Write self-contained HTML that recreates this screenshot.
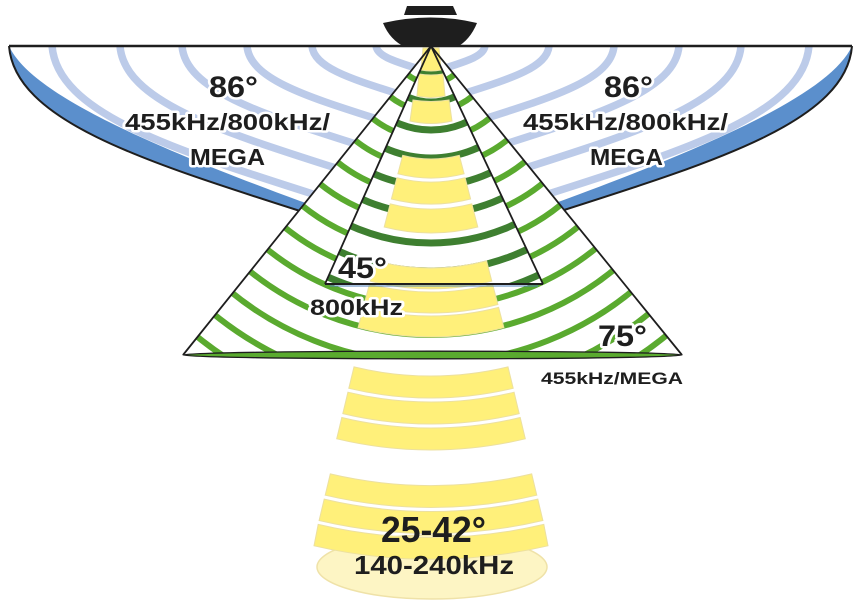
<!DOCTYPE html>
<html><head><meta charset="utf-8"><style>
html,body{margin:0;padding:0;background:#fff;}
svg{display:block;}
text{font-family:"Liberation Sans",sans-serif;font-weight:bold;fill:#1e1e1e;paint-order:stroke;stroke:#fff;stroke-linejoin:round;}
</style></head><body>
<svg width="862" height="607" viewBox="0 0 862 607" xmlns="http://www.w3.org/2000/svg">
<defs>
<clipPath id="lobe"><path d="M9,46 C30,92 140,142 300,201 L431,201 L431,46 Z"/></clipPath>
<clipPath id="outer"><polygon points="431,46 183,355 682,355"/></clipPath>
<clipPath id="inner"><polygon points="431,46 325,284 543,284"/></clipPath>
<g id="side">
  <path d="M9,46 C15,120 140,160 300,211 L312,214 L312,205 L300,201 C140,142 30,92 9,46 Z" fill="#5b8fcc"/>
  <g clip-path="url(#lobe)" fill="none" stroke="#bccbe9" stroke-width="7.5">
    <path d="M9,46 C15,120 140,160 300,211 L320,218" transform="translate(431,46) scale(0.898) translate(-431,-46)" vector-effect="non-scaling-stroke"/>
    <path d="M9,46 C15,120 140,160 300,211 L320,218" transform="translate(431,46) scale(0.737) translate(-431,-46)" vector-effect="non-scaling-stroke"/>
    <path d="M9,46 C15,120 140,160 300,211 L320,218" transform="translate(431,46) scale(0.59) translate(-431,-46)" vector-effect="non-scaling-stroke"/>
    <path d="M9,46 C15,120 140,160 300,211 L320,218" transform="translate(431,46) scale(0.436) translate(-431,-46)" vector-effect="non-scaling-stroke"/>
    <path d="M9,46 C15,120 140,160 300,211 L320,218" transform="translate(431,46) scale(0.282) translate(-431,-46)" vector-effect="non-scaling-stroke"/>
    <path d="M9,46 C15,120 140,160 300,211 L320,218" transform="translate(431,46) scale(0.13) translate(-431,-46)" vector-effect="non-scaling-stroke"/>
  </g>
  <path d="M9,46 C15,120 140,160 300,211 L312,214" fill="none" stroke="#1e1e1e" stroke-width="2"/>
</g>
</defs>

<use href="#side"/>
<use href="#side" transform="translate(861,0) scale(-1,1)"/>
<line x1="9" y1="46" x2="852" y2="46" stroke="#1e1e1e" stroke-width="2.5"/>

<polygon points="431,46 183,355 682,355" fill="#fff"/>
<g clip-path="url(#outer)" fill="none" stroke="#5aaa2f" stroke-width="6">
  <circle cx="431" cy="46" r="37"/><circle cx="431" cy="46" r="65"/><circle cx="431" cy="46" r="93"/>
  <circle cx="431" cy="46" r="121"/><circle cx="431" cy="46" r="149"/><circle cx="431" cy="46" r="177"/>
  <circle cx="431" cy="46" r="205"/><circle cx="431" cy="46" r="233"/><circle cx="431" cy="46" r="261"/>
  <circle cx="431" cy="46" r="289"/><circle cx="431" cy="46" r="317"/><circle cx="431" cy="46" r="345"/>
  <circle cx="431" cy="46" r="373"/><circle cx="431" cy="46" r="401"/>
</g>
<polygon points="431,46 325,284 543,284" fill="#fff"/>
<g clip-path="url(#inner)" fill="none" stroke="#3e7f30" stroke-width="7">
  <circle cx="431" cy="46" r="28"/><circle cx="431" cy="46" r="56"/><circle cx="431" cy="46" r="84"/>
  <circle cx="431" cy="46" r="112"/><circle cx="431" cy="46" r="140"/><circle cx="431" cy="46" r="168"/>
  <circle cx="431" cy="46" r="197"/><circle cx="431" cy="46" r="225"/><circle cx="431" cy="46" r="253"/>
</g>

<ellipse cx="432" cy="567" rx="115" ry="32" fill="#fdf5c4" stroke="#efe2a8" stroke-width="1.5"/>

<g fill="#fff07a" stroke="#ece0a0" stroke-width="1">
  <path d="M423,48 L439,48 L441,70 Q431,72 421,70 Z"/>
  <path d="M419,74 Q431,76 443,74 L445,96 Q431,99 417,96 Z"/>
  <path d="M413,100 Q431,103 449,100 L452,121 Q431,126 410,121 Z"/>
  <path d="M402.7,155.4 A113,113 0 0 0 459.3,155.4 L464.1,173.8 A132,132 0 0 1 397.9,173.8 Z"/>
  <path d="M396.9,177.7 A136,136 0 0 0 465.1,177.7 L470.6,199 A158,158 0 0 1 391.4,199 Z"/>
  <path d="M390.2,203.8 A163,163 0 0 0 471.8,203.8 L477.8,227 A187,187 0 0 1 384.2,227 Z"/>
  <path d="M375.4,260.9 A222,222 0 0 0 486.6,260.9 L491.8,281.2 A243,243 0 0 1 370.2,281.2 Z"/>
  <path d="M369.4,284.2 A246,246 0 0 0 492.6,284.2 L497.9,304.5 A267,267 0 0 1 364.1,304.5 Z"/>
  <path d="M363.4,307.4 A270,270 0 0 0 498.6,307.4 L503.9,327.7 A291,291 0 0 1 358.1,327.7 Z"/>
  <path d="M354,366.9 A330,330 0 0 0 508,366.9 L513.2,388.3 A352,352 0 0 1 348.8,388.3 Z"/>
  <path d="M347.9,392.2 A356,356 0 0 0 514.1,392.2 L519.2,413.6 A378,378 0 0 1 342.8,413.6 Z"/>
  <path d="M341.8,417.5 A382,382 0 0 0 520.2,417.5 L525.3,438.8 A404,404 0 0 1 336.7,438.8 Z"/>
  <path d="M330.3,473.9 A440,440 0 0 0 531.7,473.9 L536.8,495.2 A462,462 0 0 1 325.2,495.2 Z"/>
  <path d="M324.2,499.1 A466,466 0 0 0 537.8,499.1 L542.9,520.5 A488,488 0 0 1 319.1,520.5 Z"/>
  <path d="M318.2,524.4 A492,492 0 0 0 543.8,524.4 L548,545.8 A514,514 0 0 1 314,545.8 Z"/>
</g>

<polyline points="183,355 431,46 682,355" fill="none" stroke="#1e1e1e" stroke-width="1.8"/>
<polyline points="325,284 431,46 543,284" fill="none" stroke="#1e1e1e" stroke-width="1.8"/>
<line x1="325" y1="284" x2="543" y2="284" stroke="#1e1e1e" stroke-width="2"/>
<line x1="330" y1="286" x2="538" y2="286" stroke="#4d7fb8" stroke-width="1"/>
<ellipse cx="432.5" cy="355" rx="249.5" ry="3.8" fill="#5aaa2f" stroke="#1e1e1e" stroke-width="1.3"/>

<path d="M407,6 L453,6 L457,15 L404,15 Z" fill="#1e1e1e"/>
<path d="M383,23 Q431,12 477,23 Q470,40 457,47 L405,47 Q390,40 383,23 Z" fill="#1e1e1e"/>

<g stroke-width="5">
<text x="233.5" y="97" font-size="30" text-anchor="middle" textLength="49" lengthAdjust="spacingAndGlyphs">86°</text>
<text x="227.5" y="130" font-size="23" text-anchor="middle" textLength="205" lengthAdjust="spacingAndGlyphs">455kHz/800kHz/</text>
<text x="227.5" y="165" font-size="23" text-anchor="middle" textLength="75" lengthAdjust="spacingAndGlyphs">MEGA</text>
<text x="628.5" y="97" font-size="30" text-anchor="middle" textLength="49" lengthAdjust="spacingAndGlyphs">86°</text>
<text x="625.5" y="130" font-size="23" text-anchor="middle" textLength="205" lengthAdjust="spacingAndGlyphs">455kHz/800kHz/</text>
<text x="626.5" y="165" font-size="23" text-anchor="middle" textLength="73" lengthAdjust="spacingAndGlyphs">MEGA</text>
<text x="362.5" y="278" font-size="30" text-anchor="middle" textLength="49" lengthAdjust="spacingAndGlyphs">45°</text>
<text x="356.5" y="315" font-size="22" text-anchor="middle" textLength="93" lengthAdjust="spacingAndGlyphs">800kHz</text>
<text x="622.5" y="346" font-size="30" text-anchor="middle" textLength="49" lengthAdjust="spacingAndGlyphs">75°</text>
<text x="612" y="384" font-size="17" text-anchor="middle" textLength="142" lengthAdjust="spacingAndGlyphs">455kHz/MEGA</text>
</g>
<g stroke-width="0">
<text x="433.5" y="542" font-size="36" text-anchor="middle" textLength="105" lengthAdjust="spacingAndGlyphs">25-42°</text>
<text x="434" y="574" font-size="26" text-anchor="middle" textLength="160" lengthAdjust="spacingAndGlyphs">140-240kHz</text>
</g>
</svg>
</body></html>
